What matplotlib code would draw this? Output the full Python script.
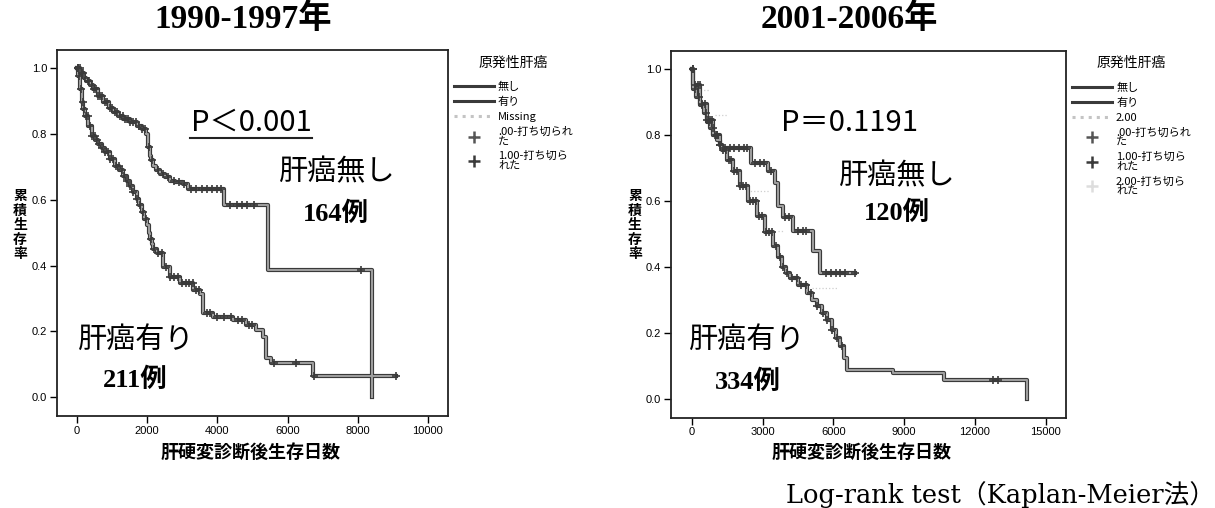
import numpy as np
import matplotlib
matplotlib.use("Agg")
import matplotlib.pyplot as plt
from matplotlib.lines import Line2D

plt.rcParams['font.family'] = ['Noto Sans CJK JP', 'DejaVu Sans']
SERIF = ['Liberation Serif', 'Noto Sans CJK JP']

# ---- 1990-1997 : no HCC (164), HCC (211) ----
l_no_t = [0, 100, 200, 270, 370, 465, 600, 750, 900, 1035, 1180, 1320, 1500, 1700,
          1850, 1975, 2030, 2080, 2120, 2175, 2260, 2365, 2500, 2650, 2800, 3030, 3175,
          4200, 5440, 8414]
l_no_s = [1.0, 0.985, 0.97, 0.96, 0.948, 0.936, 0.915, 0.896, 0.88, 0.866, 0.855, 0.845,
          0.835, 0.825, 0.815, 0.80, 0.76, 0.734, 0.72, 0.704, 0.69, 0.678, 0.668, 0.658,
          0.655, 0.648, 0.633, 0.583, 0.388, 0.0]
l_no_end = 8414
l_no_cens = [30, 80, 130, 180, 230, 300, 350, 420, 480, 540, 600, 660, 720, 800, 860, 930,
             1000, 1080, 1150, 1230, 1300, 1380, 1450, 1520, 1600, 1680, 1760, 1850, 1930,
             2050, 2150, 2300, 2450, 2600, 2750, 2900, 3050, 3250, 3400, 3550, 3700, 3850,
             4000, 4100, 4350, 4550, 4700, 4850, 5050, 8101]

l_yes_t = [0, 40, 85, 132, 180, 228, 323, 418, 510, 608, 700, 798, 940, 1083, 1200, 1320,
           1420, 1510, 1600, 1700, 1770, 1842, 1915, 1985, 2040, 2080, 2130, 2175, 2280,
           2450, 2640, 2925, 3305, 3495, 3580, 3875, 4445, 4825, 5109, 5299, 5394, 5537,
           6724]
l_yes_s = [1.0, 0.975, 0.936, 0.896, 0.875, 0.855, 0.825, 0.795, 0.782, 0.77, 0.757, 0.744,
           0.724, 0.704, 0.69, 0.673, 0.658, 0.643, 0.623, 0.603, 0.583, 0.562, 0.542, 0.522,
           0.50, 0.481, 0.465, 0.45, 0.437, 0.396, 0.366, 0.346, 0.326, 0.315, 0.255, 0.245,
           0.235, 0.219, 0.204, 0.184, 0.12, 0.103, 0.066]
l_yes_end = 9080
l_yes_cens = [20, 60, 110, 160, 210, 260, 310, 370, 430, 500, 570, 640, 720, 800, 870, 950,
              1030, 1110, 1190, 1270, 1350, 1430, 1520, 1610, 1700, 1790, 1880, 1960, 2100,
              2200, 2320, 2420, 2540, 2650, 2760, 2880, 2990, 3100, 3200, 3300, 3400, 3480,
              3700, 3800, 4000, 4200, 4400, 4600, 4700, 4900, 5000, 5600, 6250, 6750, 9080]

# ---- 2001-2006 : no HCC (120), HCC (334), group 2.00 ----
r_no_t = [0, 70, 200, 353, 500, 636, 780, 918, 1060, 1200, 1300, 2490, 3250, 3530, 3650,
          3883, 4270, 5154, 5437]
r_no_s = [1.0, 0.94, 0.915, 0.89, 0.865, 0.84, 0.82, 0.80, 0.785, 0.77, 0.76, 0.715, 0.69,
          0.654, 0.583, 0.55, 0.508, 0.447, 0.381]
r_no_end = 6919
r_no_cens = [40, 150, 300, 450, 600, 750, 900, 1050, 1200, 1400, 1600, 1800, 2000, 2200,
             2350, 2700, 2900, 3050, 3350, 3950, 4100, 4500, 4700, 4850, 5700, 5900, 6100,
             6300, 6500, 6919]

r_yes_t = [0, 70, 353, 636, 918, 1200, 1271, 1500, 1750, 2046, 2400, 2754, 3100, 3459, 3640,
           3812, 4000, 4166, 4500, 4872, 5100, 5296, 5500, 5720, 5932, 6100, 6285, 6450,
           6567, 8543, 10690, 14194]
r_yes_s = [1.0, 0.95, 0.895, 0.845, 0.80, 0.77, 0.755, 0.725, 0.69, 0.644, 0.60, 0.553,
           0.507, 0.462, 0.43, 0.40, 0.38, 0.366, 0.345, 0.32, 0.30, 0.28, 0.26, 0.24, 0.21,
           0.185, 0.159, 0.125, 0.088, 0.078, 0.058, 0.0]
r_yes_end = 14194
r_yes_cens = [50, 150, 250, 350, 450, 550, 650, 760, 870, 980, 1090, 1200, 1320, 1440, 1560,
              1680, 1800, 1930, 2060, 2190, 2320, 2450, 2580, 2710, 2850, 2990, 3130, 3270,
              3410, 3560, 3720, 3880, 4050, 4250, 4450, 4650, 4850, 5050, 5300, 5550, 5750,
              5950, 6150, 6350, 12780, 12990]

# faint group 2.00: only the flat pieces are visible in the scan
r_two_lvl = [0.937, 0.861, 0.629, 0.508, 0.336]
r_two_from = [212, 990, 2330, 3670, 5084]
r_two_to = [775, 1483, 3318, 3883, 6143]

DARK = '#3a3a3a'
LIGHT = '#a0a0a0'


def km_line(ax, t, s, t_end, cens):
    tt = np.append(t, t_end)
    ss = np.append(s, s[-1])
    ax.step(tt, ss, where='post', color=DARK, lw=3.0, zorder=2)
    ax.step(tt, ss, where='post', color=LIGHT, lw=1.4, zorder=3)
    cens = np.asarray(cens)
    cy = ss[np.searchsorted(tt, cens, side='right') - 1]
    ax.plot(cens, cy, '+', ms=6, mew=1.2, color=DARK, zorder=4)


def style_axes(ax, xticks, xlim):
    ax.set_xlim(xlim)
    ax.set_ylim(-0.057, 1.055)
    ax.set_xticks(xticks)
    ax.set_yticks([0.0, 0.2, 0.4, 0.6, 0.8, 1.0])
    ax.set_yticklabels(['0.0', '0.2', '0.4', '0.6', '0.8', '1.0'])
    ax.tick_params(direction='out', length=5, width=1, pad=2, labelsize=8)
    for lab in ax.get_xticklabels() + ax.get_yticklabels():
        lab.set_family('Liberation Sans')
    for sp in ax.spines.values():
        sp.set_linewidth(1.3)
        sp.set_color('#222222')


fig = plt.figure(figsize=(12.15, 5.08), dpi=100)
ax1 = fig.add_axes([0.0469, 0.1811, 0.3218, 0.7205])
ax2 = fig.add_axes([0.5523, 0.1778, 0.3251, 0.7224])

# left panel
km_line(ax1, l_no_t, l_no_s, l_no_end, l_no_cens)
km_line(ax1, l_yes_t, l_yes_s, l_yes_end, l_yes_cens)
style_axes(ax1, [0, 2000, 4000, 6000, 8000, 10000], (-570, 10570))

ax1.text(4957, 0.834, 'P＜0.001', fontsize=21, ha='center', va='center')
ax1.plot([0.340, 0.652], [0.760, 0.760], transform=ax1.transAxes, color='#222222', lw=1.5)
ax1.text(7407, 0.682, '肝癌無し', fontsize=21, ha='center', va='center')
ax1.text(7379, 0.558, '164例', fontsize=19, ha='center', va='center', family=SERIF, weight='bold')
ax1.text(1681, 0.173, '肝癌有り', fontsize=21, ha='center', va='center')
ax1.text(1652, 0.052, '211例', fontsize=19, ha='center', va='center', family=SERIF, weight='bold')

# right panel
ax2.hlines(r_two_lvl, r_two_from, r_two_to, colors='#cfcfcf', lw=0.9, linestyles=':', zorder=1)
km_line(ax2, r_no_t, r_no_s, r_no_end, r_no_cens)
km_line(ax2, r_yes_t, r_yes_s, r_yes_end, r_yes_cens)
style_axes(ax2, [0, 3000, 6000, 9000, 12000, 15000], (-877, 15859))

ax2.text(6686, 0.837, 'P＝0.1191', fontsize=21, ha='center', va='center')
ax2.text(8720, 0.673, '肝癌無し', fontsize=21, ha='center', va='center')
ax2.text(8700, 0.564, '120例', fontsize=19, ha='center', va='center', family=SERIF, weight='bold')
ax2.text(2343, 0.179, '肝癌有り', fontsize=21, ha='center', va='center')
ax2.text(2385, 0.052, '334例', fontsize=19, ha='center', va='center', family=SERIF, weight='bold')

# legends
def line_h(ls='-', color=DARK):
    return Line2D([], [], color=color, lw=2.2, ls=ls)


def cens_h(color=DARK):
    return Line2D([], [], color=color, marker='+', ls='none', ms=9, mew=1.8)


h1 = [line_h(), line_h(), line_h(':', '#c4c4c4'), cens_h('#555555'), cens_h()]
lab1 = ['無し', '有り', 'Missing', '.00-打ち切られ\nた', '1.00-打ち切ら\nれた']
h2 = [line_h(), line_h(), line_h(':', '#c4c4c4'), cens_h('#555555'), cens_h(), cens_h('#dddddd')]
lab2 = ['無し', '有り', '2.00', '.00-打ち切られ\nた', '1.00-打ち切ら\nれた', '2.00-打ち切ら\nれた']

for ax, h, lab in [(ax1, h1, lab1), (ax2, h2, lab2)]:
    leg = ax.legend(h, lab, loc='upper left', bbox_to_anchor=(1.0, 1.0), frameon=False,
                    fontsize=8, title='原発性肝癌', title_fontsize=10, handlelength=3.6,
                    handletextpad=0.4, labelspacing=0.42, borderaxespad=0.2, borderpad=0.3)
    leg._legend_box.sep = 9
    for t in leg.get_texts():
        t.set_linespacing(0.95)

# titles and axis labels
fig.text(0.200, 0.963, '1990-1997年', fontsize=24, ha='center', va='center', family=SERIF, weight='bold')
fig.text(0.699, 0.963, '2001-2006年', fontsize=24, ha='center', va='center', family=SERIF, weight='bold')
for x in (0.0165, 0.5226):
    fig.text(x, 0.557, '累\n積\n生\n存\n率', fontsize=10, ha='center', va='center',
             linespacing=1.05, weight='bold')
for x in (0.2058, 0.7095):
    fig.text(x, 0.110, '肝硬変診断後生存日数', fontsize=13, ha='center', va='center', weight='bold')
fig.text(1.0, 0.027, 'Log-rank test（Kaplan-Meier法）', fontsize=18.5, ha='right', va='center',
         family=['DejaVu Serif', 'Noto Sans CJK JP'])

fig.savefig('out.png', dpi=100)
